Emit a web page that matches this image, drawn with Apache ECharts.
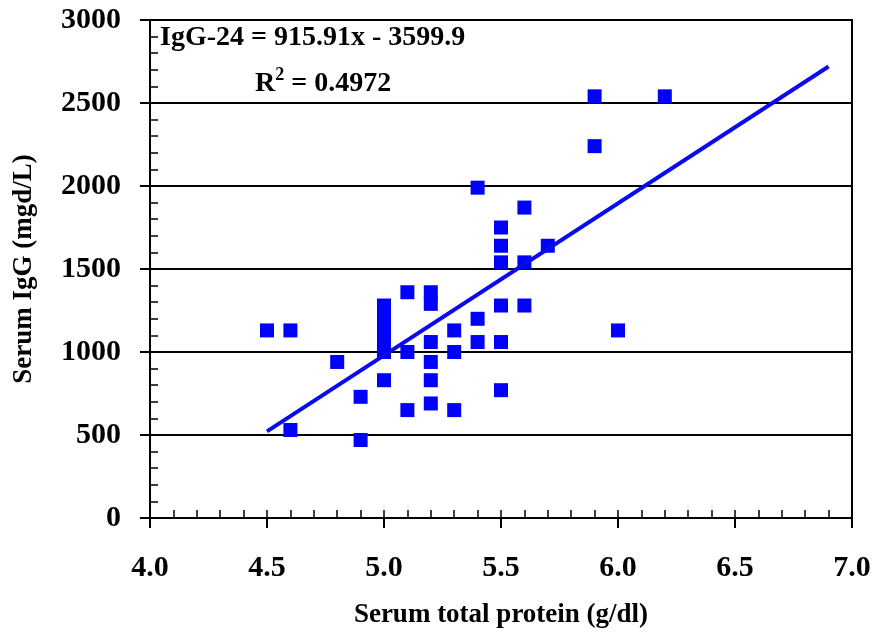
<!DOCTYPE html>
<html lang="en">
<head>
    <meta charset="UTF-8">
    <title>Serum IgG vs total protein</title>
    <style>
        html, body { margin: 0; padding: 0; background: #fff; }
        #main { width: 896px; height: 632px; }
    </style>
</head>
<body>
    <div id="main"></div>
    <script src="https://cdn.jsdelivr.net/npm/echarts@6/dist/echarts.min.js"></script>
    <script>
        // measured points: total protein (g/dl) and IgG (mg/dL)
        var protein = [4.5, 4.6, 4.6, 4.8, 4.9, 4.9,
                       5.0, 5.0, 5.0, 5.0, 5.0, 5.0, 5.0,
                       5.1, 5.1, 5.1,
                       5.2, 5.2, 5.2, 5.2, 5.2, 5.2,
                       5.3, 5.3, 5.3,
                       5.4, 5.4, 5.4,
                       5.5, 5.5, 5.5, 5.5, 5.5, 5.5,
                       5.6, 5.6, 5.6, 5.7,
                       5.9, 5.9, 6.0, 6.2];
        var igg = [1130, 1130, 530, 940, 730, 470,
                   1280, 1230, 1170, 1130, 1060, 1000, 830,
                   1360, 1000, 650,
                   1360, 1290, 1060, 940, 830, 690,
                   1130, 1000, 650,
                   1990, 1200, 1060,
                   1750, 1640, 1540, 1280, 1060, 770,
                   1870, 1540, 1280, 1640,
                   2540, 2240, 1130, 2540];

        // linear trend as printed on the chart
        var slope = 915.91;
        var intercept = -3599.9;
        var trendX = [4.5, 6.9];

        var xTicks = ['4.0', '4.5', '5.0', '5.5', '6.0', '6.5', '7.0'];

        var points = protein.map(function (p, i) { return [p, igg[i]]; });
        var trend = trendX.map(function (x) { return [x, slope * x + intercept]; });

        var font = 'Liberation Serif';
        var myChart = echarts.init(document.getElementById('main'));

        var option = {
            animation: false,
            backgroundColor: '#fff',
            grid: {
                left: 150, right: 44, top: 20, bottom: 114,
                outerBoundsMode: 'none',
                show: true, borderColor: '#000', borderWidth: 2
            },
            xAxis: [{
                type: 'value', min: 4, max: 7, interval: 0.5,
                name: 'Serum total protein (g/dl)',
                nameLocation: 'middle', nameGap: 84,
                nameTextStyle: { fontFamily: font, fontWeight: 'bold', fontSize: 27, color: '#000' },
                axisLine: { lineStyle: { color: '#000', width: 2 } },
                axisTick: { length: 10, lineStyle: { color: '#000', width: 2 } },
                axisLabel: {
                    margin: 35, fontFamily: font, fontWeight: 'bold', fontSize: 30, color: '#000',
                    formatter: function (v) { return xTicks[Math.round((v - 4) * 2)]; }
                },
                splitLine: { show: false }
            }, {
                // inner minor ticks every 0.1
                type: 'value', min: 4, max: 7, interval: 0.1, position: 'bottom',
                axisLine: { show: false },
                axisTick: { inside: true, length: 8, lineStyle: { color: '#000', width: 1.5 } },
                axisLabel: { show: false },
                splitLine: { show: false }
            }],
            yAxis: [{
                type: 'value', min: 0, max: 3000, interval: 500,
                name: 'Serum IgG (mgd/L)',
                nameLocation: 'middle', nameGap: 112,
                nameTextStyle: { fontFamily: font, fontWeight: 'bold', fontSize: 27, color: '#000' },
                axisLine: { show: true, lineStyle: { color: '#000', width: 2 } },
                axisTick: { show: true, length: 10, lineStyle: { color: '#000', width: 2 } },
                axisLabel: {
                    margin: 29, fontFamily: font, fontWeight: 'bold', fontSize: 30, color: '#000',
                    formatter: function (v) { return String(v); }
                },
                splitLine: { lineStyle: { color: '#000', width: 2 } }
            }, {
                type: 'value', min: 0, max: 3000, interval: 100, position: 'left',
                axisLine: { show: false },
                axisTick: { show: true, inside: true, length: 8, lineStyle: { color: '#000', width: 1.5 } },
                axisLabel: { show: false },
                splitLine: { show: false }
            }],
            graphic: [{
                type: 'text', left: 160, top: 24, z: 10,
                style: {
                    text: 'IgG-24 = 915.91x - 3599.9',
                    fontFamily: font, fontWeight: 'bold', fontSize: 28, fill: '#000'
                }
            }, {
                type: 'text', left: 255, top: 66, z: 10,
                style: {
                    text: '{a|R}{s|2}{a| = 0.4972}',
                    rich: {
                        a: { fontFamily: font, fontWeight: 'bold', fontSize: 28, fill: '#000', verticalAlign: 'bottom' },
                        s: { fontFamily: font, fontWeight: 'bold', fontSize: 18, fill: '#000', verticalAlign: 'top', padding: [0, 0, 14, 0] }
                    }
                }
            }],
            series: [{
                type: 'scatter',
                data: points,
                symbol: 'rect',
                symbolSize: 14,
                itemStyle: { color: '#0000ff', opacity: 1 }
            }, {
                type: 'line',
                data: trend,
                symbol: 'none',
                lineStyle: { color: '#0a0aee', width: 4 },
                z: 3
            }]
        };

        myChart.setOption(option);
    </script>
</body>
</html>
